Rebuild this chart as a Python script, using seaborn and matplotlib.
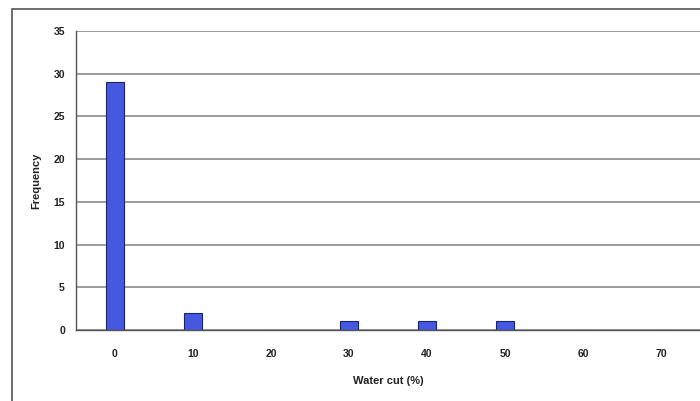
"""Water cut frequency bar chart"""
import matplotlib
matplotlib.use('Agg')
import matplotlib.pyplot as plt
from matplotlib.patches import Rectangle
import pandas as pd
import seaborn as sns

#Data
water_cut = ['0', '10', '20', '30', '40', '50', '60', '70']
frequency = [29, 2, 0, 1, 1, 1, 0, 0]

df = pd.DataFrame({'water_cut': water_cut, 'frequency': frequency})

sns.set_style('white')
plt.rcParams['font.family'] = ['Liberation Sans', 'DejaVu Sans']

fig = plt.figure(figsize=(7, 4.01), dpi=100)
ax = fig.add_axes([76 / 700, 1 - 330 / 401, 1 - 76 / 700, (330 - 31) / 401])

sns.barplot(data=df, x='water_cut', y='frequency', order=water_cut,
            color='#4658e0', edgecolor='#1a2370', linewidth=0.8,
            width=0.24, saturation=1, ax=ax)

#Axis limits and grid
ax.set_xlim(-0.5, len(water_cut) - 0.5)
ax.set_ylim(0, 35)
ax.set_yticks(range(0, 36, 5))
ax.yaxis.grid(True, color='#8a8a8a', linewidth=1.2)
ax.set_axisbelow(True)

for side in ['top', 'right']:
    ax.spines[side].set_visible(False)
for side in ['left', 'bottom']:
    ax.spines[side].set_color('#555555')
    ax.spines[side].set_linewidth(1.0)

#Tick marks at category boundaries like a spreadsheet chart
ax.set_xticks([i + 0.5 for i in range(len(water_cut) - 1)], minor=True)
ax.tick_params(axis='x', which='major', length=0, pad=14, labelsize=7.5)
ax.tick_params(axis='x', which='minor', length=4, width=1, color='#555555',
               direction='out')
ax.tick_params(axis='y', length=4, width=1, color='#555555', labelsize=7.5,
               pad=4)
for lab in ax.get_xticklabels() + ax.get_yticklabels():
    lab.set_fontweight('bold')
    lab.set_color('#222222')

ax.set_xlabel('Water cut (%)', fontsize=8, fontweight='bold',
              color='#222222', labelpad=12)
ax.set_ylabel('Frequency', fontsize=8, fontweight='bold',
              color='#222222', labelpad=9)

#Outer chart frame
fig.patches.append(Rectangle((12 / 700, -0.05), 1.0, 1 - 9 / 401 + 0.05,
                             transform=fig.transFigure, fill=False,
                             edgecolor='#555555', linewidth=1.2))

fig.savefig('out.png', dpi=100)
